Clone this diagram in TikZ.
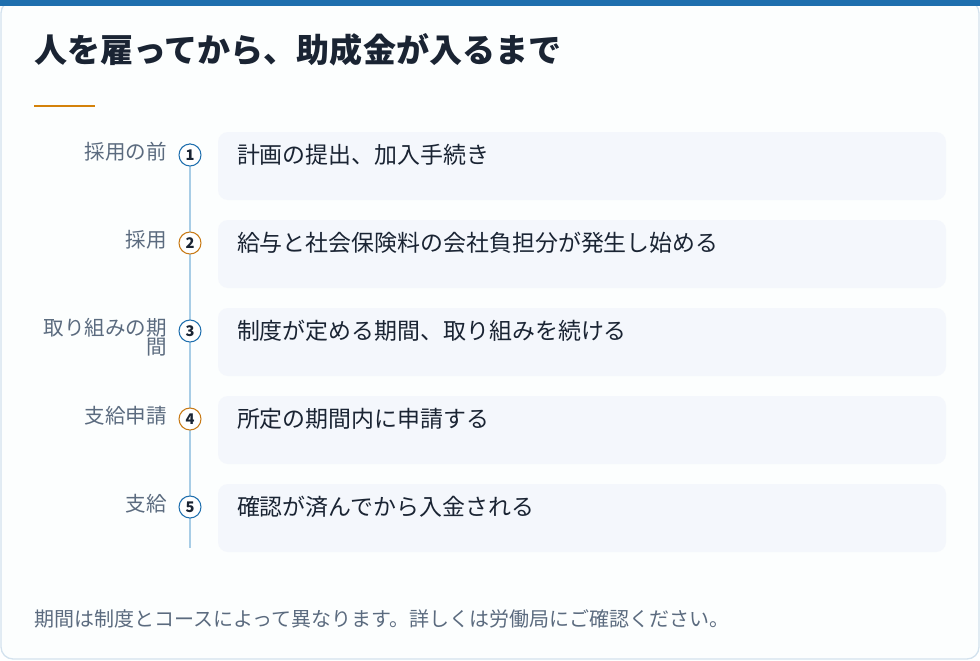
\documentclass[tikz,border=0pt]{standalone}
\usepackage{fontspec}
\setmainfont{Noto Sans CJK JP}
\usepackage{tikz}
\usetikzlibrary{positioning}
\definecolor{barblue}{HTML}{1F6FAE}
\definecolor{cardline}{HTML}{D3E2EE}
\definecolor{cardfill}{HTML}{FCFEFE}
\definecolor{boxfill}{HTML}{F4F7FC}
\definecolor{titleink}{HTML}{1A2433}
\definecolor{labelink}{HTML}{5B6B7F}
\definecolor{ruleorange}{HTML}{D4820A}
\definecolor{ringblue}{HTML}{1F6FAE}
\definecolor{ringorange}{HTML}{C87A16}
\definecolor{timeline}{HTML}{A8CDE6}

\begin{document}
\begin{tikzpicture}[x=0.75pt,y=-0.75pt,every node/.style = {inner sep=0pt, outer sep=0pt},stepbox/.style = {rectangle, rounded corners=7.5pt, fill=boxfill, minimum width=546pt, minimum height=51pt},steptext/.style = {anchor=west, font=\fontsize{17.2}{20}\selectfont, text=titleink},steplabel/.style = {anchor=north east, align=right, font=\fontsize{15.4}{14.5}\selectfont, text=labelink},stepnum/.style = {circle, draw=#1, line width=0.8pt, fill=white, minimum size=16.5pt, font=\bfseries\fontsize{11}{12}\selectfont, text=titleink}]
\useasboundingbox (0,0) rectangle (980,660);
% card
\draw[cardline, fill=cardfill, line width=1pt, rounded corners=9pt] (1,1) rectangle (979,659);
\fill[barblue] (0,0) rectangle (980,6);
\node[anchor=west, font=\bfseries\fontsize{24.8}{28}\selectfont, text=titleink] (title) at (34,50) {人を雇ってから、助成金が入るまで};
\draw[ruleorange, line width=1pt] (34,106) -- (95,106);
\coordinate (lineend) at (190,548);
% steps
\foreach \i/\lab/\txt in {1/{採用の前}/{計画の提出、加入手続き},
    2/{採用}/{給与と社会保険料の会社負担分が発生し始める},
    3/{取り組みの期\\間}/{制度が定める期間、取り組みを続ける},
    4/{支給申請}/{所定の期間内に申請する},
    5/{支給}/{確認が済んでから入金される}}
  { \node[stepbox] (box;\i) at (582,{166+88*(\i-1)}) {};
    \node[steptext] (txt;\i) at (237,{155+88*(\i-1)}) {\txt};
    \node[steplabel] (lab;\i) at (167,{142+88*(\i-1)}) {\lab}; }
\draw[timeline, line width=1pt] (190,143) -- (lineend);
\foreach \i/\ring in {1/ringblue,2/ringorange,3/ringblue,4/ringorange,5/ringblue}
  { \node[stepnum=\ring] (num;\i) at (190,{155+88*(\i-1)}) {\i}; }
\node[anchor=west, font=\fontsize{15}{17}\selectfont, text=labelink] (note) at (34,619) {期間は制度とコースによって異なります。詳しくは労働局にご確認ください。};
\end{tikzpicture}
\end{document}
